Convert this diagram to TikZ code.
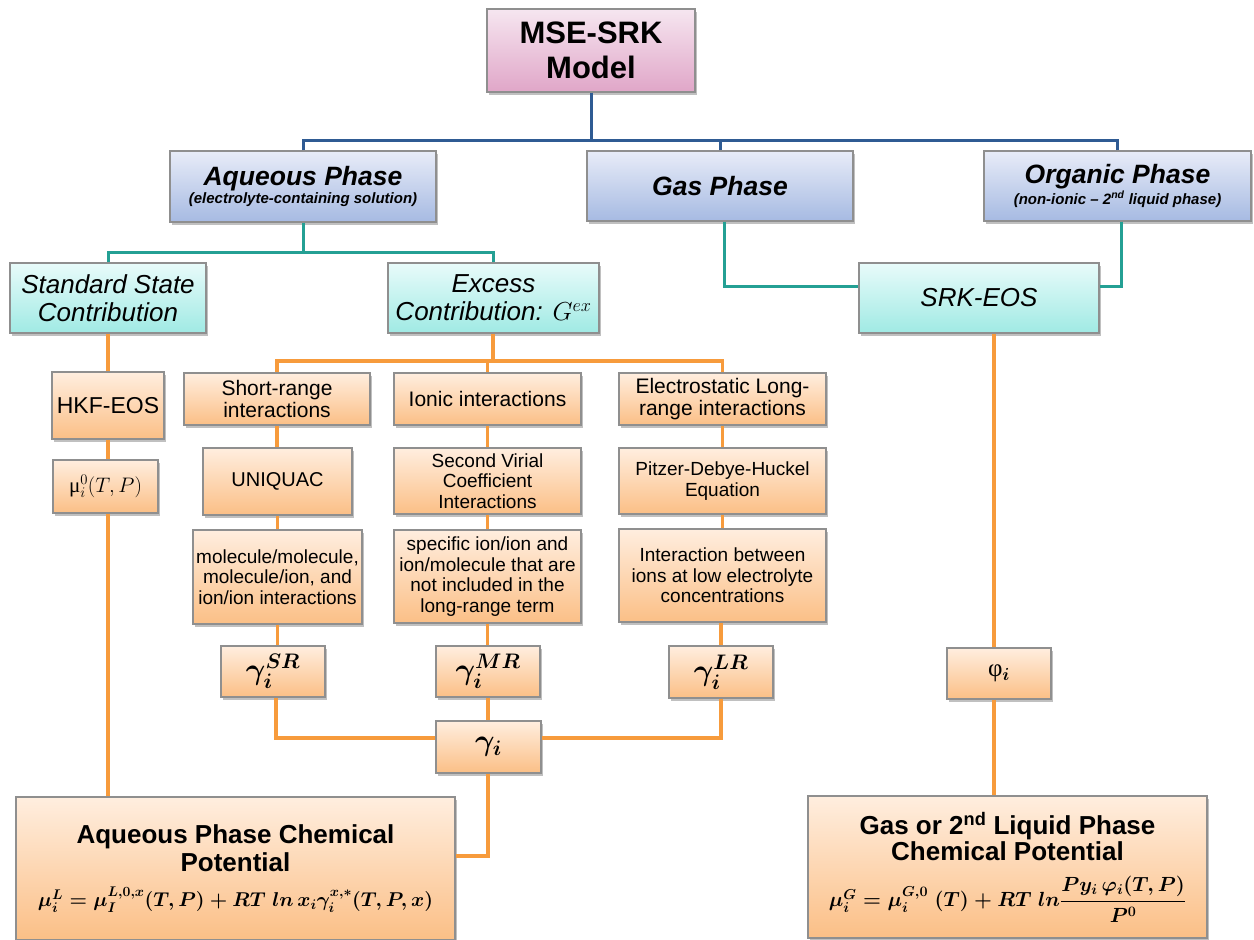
\RequirePackage{fix-cm}
\documentclass[tikz,border=0pt]{standalone}
\usepackage{amsmath}
\usepackage{fontspec}
\setmainfont{Liberation Sans}
\newfontfamily\grk{Liberation Serif}
\usetikzlibrary{shadows}
\definecolor{bordergray}{HTML}{8F8F8F}
\definecolor{pinktop}{HTML}{F6E6F0}
\definecolor{pinkbot}{HTML}{E0A6C8}
\definecolor{bluetop}{HTML}{E8ECF8}
\definecolor{bluebot}{HTML}{A6BAE2}
\definecolor{tealtop}{HTML}{E8FBFA}
\definecolor{tealbot}{HTML}{A0EAE4}
\definecolor{orgtop}{HTML}{FFEEDF}
\definecolor{orgbot}{HTML}{FBBF86}
\definecolor{blueline}{HTML}{2F5B93}
\definecolor{tealline}{HTML}{24A094}
\definecolor{orgline}{HTML}{F79B3C}
\begin{document}
\begin{tikzpicture}[x=1pt,y=-1pt,
  base/.style={draw=bordergray, line width=1.1pt, align=center, inner sep=0pt,
    drop shadow={shadow xshift=2pt, shadow yshift=-2.5pt, opacity=0.35, fill=black!70}},
  pinkbox/.style={base, top color=pinktop, bottom color=pinkbot},
  bluebox/.style={base, top color=bluetop, bottom color=bluebot},
  tealbox/.style={base, top color=tealtop, bottom color=tealbot},
  orgbox/.style={base, top color=orgtop, bottom color=orgbot},
  wh/.style 2 args={minimum width=#1, minimum height=#2},
  bl/.style={draw=blueline, line width=3pt},
  tl/.style={draw=tealline, line width=3pt},
  ol/.style={draw=orgline, line width=3.5pt},
  small/.style={font=\fontsize{19}{20.5}\selectfont},
  mid/.style={font=\fontsize{21}{22.5}\selectfont},
  tealtext/.style={font=\itshape\fontsize{26}{28}\selectfont},
  gam/.style={font=\fontsize{30}{32}\selectfont}
]
\fill[white] (0,0) rectangle (1254,940);
\useasboundingbox (0,0) rectangle (1254,940);

% top levels
\node[pinkbox, wh={208}{83}, font=\bfseries\fontsize{31}{35}\selectfont] (mse) at (591,50.5) {MSE-SRK\\Model};
\node[bluebox, wh={266}{71}, font=\bfseries\itshape] (aq) at (303,186.5)
  {\fontsize{26.5}{26}\selectfont Aqueous Phase\\[1pt]\fontsize{15}{17}\selectfont (electrolyte-containing solution)};
\node[bluebox, wh={266}{70}, font=\bfseries\itshape\fontsize{26.5}{30}\selectfont] (gas) at (720,186) {Gas Phase};
\node[bluebox, wh={267}{70}, font=\bfseries\itshape] (org) at (1117.5,186)
  {\fontsize{26.5}{26}\selectfont Organic Phase\\[1pt]\fontsize{15}{17}\selectfont (non-ionic -- 2\textsuperscript{nd} liquid phase)};

\node[tealbox, wh={196}{70}, tealtext] (std) at (108,298) {Standard State\\Contribution};
\node[tealbox, wh={211}{70}, tealtext] (exc) at (493.5,298) {Excess\\Contribution: $G^{ex}$};
\node[tealbox, wh={240}{70}, tealtext] (srk) at (979,298) {SRK-EOS};

% standard state column
\node[orgbox, wh={112}{67}, font=\fontsize{23}{25}\selectfont] (hkf) at (108,405.5) {HKF-EOS};
\node[orgbox, wh={105}{53}, font=\fontsize{21}{23}\selectfont] (mu) at (105.5,486.5) {{\grk μ}$_{i}^{0}(T,P)$};

% short range column
\node[orgbox, wh={186}{52}, mid] (short) at (277,399) {Short-range\\interactions};
\node[orgbox, wh={149}{67}, font=\fontsize{20}{22}\selectfont] (uniq) at (277.5,481.5) {UNIQUAC};
\node[orgbox, wh={169}{94}, small] (molec) at (277.5,577) {molecule/molecule,\\molecule/ion, and\\ion/ion interactions};
\node[orgbox, wh={104}{51}, gam] (gsr) at (273,671.5) {$\boldsymbol{\gamma_i^{SR}}$};

% ionic column
\node[orgbox, wh={187}{52}, mid] (ionic) at (487.5,399) {Ionic interactions};
\node[orgbox, wh={187}{66}, small] (virial) at (487.5,481) {Second Virial\\Coefficient\\Interactions};
\node[orgbox, wh={187}{93}, small] (spec) at (487.5,576.5) {specific ion/ion and\\ion/molecule that are\\not included in the\\long-range term};
\node[orgbox, wh={104}{51}, gam] (gmr) at (488,671.5) {$\boldsymbol{\gamma_i^{MR}}$};
\node[orgbox, wh={105}{52}, gam] (gi) at (488.5,747) {$\boldsymbol{\gamma_i}$};

% long range column
\node[orgbox, wh={207}{52}, mid] (elec) at (722.5,399) {Electrostatic Long-\\range interactions};
\node[orgbox, wh={207}{66}, small] (pitzer) at (722.5,481) {Pitzer-Debye-Huckel\\Equation};
\node[orgbox, wh={207}{93}, small] (inter) at (722.5,575.5) {Interaction between\\ions at low electrolyte\\concentrations};
\node[orgbox, wh={104}{52}, gam] (glr) at (721,672) {$\boldsymbol{\gamma_i^{LR}}$};

% gas column
\node[orgbox, wh={104}{51}, font=\fontsize{25}{27}\selectfont] (phi) at (999,673.5) {{\grk φ}$_{\boldsymbol{i}}$};

% bottom boxes
\node[orgbox, wh={439}{143}, font=\bfseries\fontsize{26}{28}\selectfont] (aqchem) at (235.5,868.5)
  {\rule{0pt}{14pt}Aqueous Phase Chemical\\Potential\\[7pt]
   {\fontsize{20}{22}\selectfont $\boldsymbol{\mu_i^L = \mu_I^{L,0,x}(T,P) + RT\; ln\, x_i\gamma_i^{x,*}(T,P,x)}$}};
\node[orgbox, wh={399}{142}, font=\bfseries\fontsize{26}{26}\selectfont] (gaschem) at (1007.5,867)
  {Gas or 2\textsuperscript{nd} Liquid Phase\\Chemical Potential\\[14pt]
   {\fontsize{20.5}{22}\selectfont $\boldsymbol{\mu_i^G = \mu_i^{G,0}\;(T) + RT\; ln\dfrac{P y_i\, \varphi_i(T,P)}{P^0}}$}};

% blue connectors
\coordinate (bj) at (591,140);
\draw[bl] (mse.south) -- (bj);
\draw[bl] (aq.north) |- (bj);
\draw[bl] (gas.north) |- (bj);
\draw[bl] (org.north) |- (bj);

% teal connectors
\coordinate (tj) at (303,252);
\draw[tl] (aq.south) -- (tj);
\draw[tl] (std.north) |- (tj);
\draw[tl] (exc.north) |- (tj);
\coordinate (tg) at (724,286);
\draw[tl] (gas.south -| tg) |- (srk.west |- tg);
\coordinate (to) at (1121,286);
\draw[tl] (org.south -| to) |- (srk.east |- to);

% orange connectors
\draw[ol] (std.south) -- (hkf.north);
\draw[ol] (hkf.south) -- (hkf.south |- mu.north);
\draw[ol] (mu.south -| hkf.south) -- (aqchem.north -| hkf.south);

\coordinate (oj) at (493,361);
\draw[ol] (exc.south -| oj) -- (oj);
\draw[ol] (short.north) |- (oj);
\draw[ol] (ionic.north) |- (oj);
\draw[ol] (elec.north) |- (oj);

\draw[ol] (short.south) -- (uniq.north -| short.south);
\draw[ol] (uniq.south) -- (molec.north);
\draw[ol] (molec.south) -- (molec.south |- gsr.north);
\coordinate (gl) at (276,738);
\draw[ol] (gsr.south -| gl) |- (gi.west |- gl);

\draw[ol] (ionic.south) -- (virial.north);
\draw[ol] (virial.south) -- (spec.north);
\draw[ol] (spec.south) -- (spec.south |- gmr.north);
\draw[ol] (gmr.south) -- (gmr.south |- gi.north);

\draw[ol] (elec.south) -- (pitzer.north);
\draw[ol] (pitzer.south) -- (inter.north);
\draw[ol] (inter.south -| glr.north) -- (glr.north);
\coordinate (gr) at (721,738);
\draw[ol] (glr.south) |- (gi.east |- gr);

\coordinate (ga) at (488,856);
\draw[ol] (gi.south -| ga) |- (aqchem.east |- ga);

\coordinate (sx) at (994,0);
\draw[ol] (srk.south -| sx) -- (phi.north -| sx);
\draw[ol] (phi.south -| sx) -- (gaschem.north -| sx);
\end{tikzpicture}
\end{document}
